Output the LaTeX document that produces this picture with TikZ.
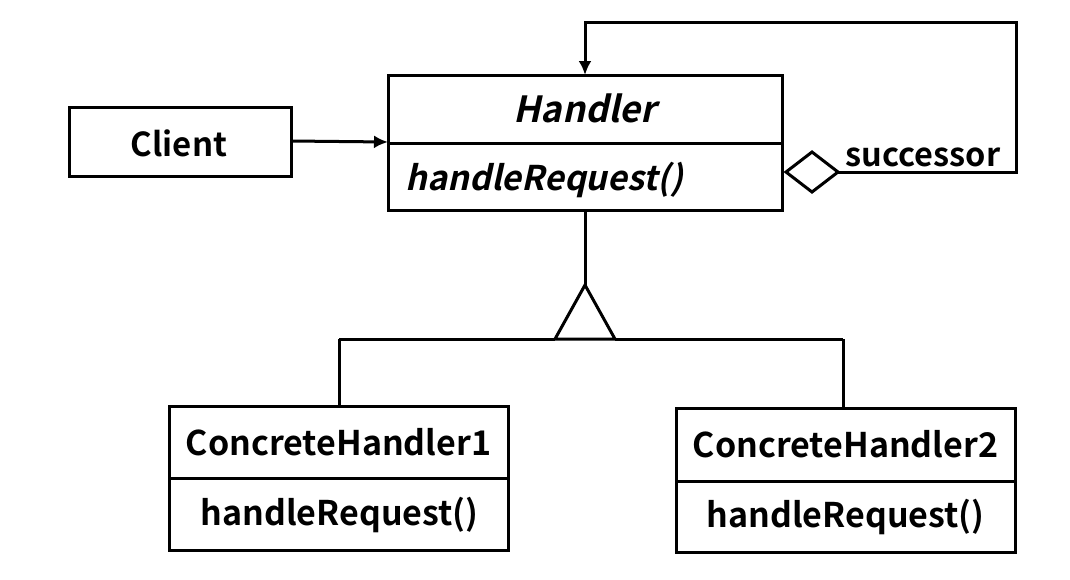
\documentclass[tikz,border=0pt]{standalone}
\usepackage{fontspec}
\usetikzlibrary{arrows.meta}
\setmainfont{Noto Sans CJK SC}[BoldFont={* Bold},BoldItalicFont={* Bold},BoldItalicFeatures={FakeSlant=0.22},ItalicFont={*},ItalicFeatures={FakeSlant=0.22}]
\begin{document}
\begin{tikzpicture}[x=1pt,y=-1pt,line width=3pt,
  box/.style={draw,line width=3pt},
  lbl/.style={font=\fontsize{34}{34}\selectfont\bfseries,inner sep=0pt},
  ilbl/.style={font=\fontsize{34}{34}\selectfont\bfseries\itshape,inner sep=0pt},
  arr/.style={-{Latex[length=14pt,width=13pt]}}]
\useasboundingbox (0,0) rectangle (1070,579);
% Client
\draw[box] (69,107) rectangle (291,176);
\node[lbl,font=\fontsize{33}{33}\selectfont\bfseries] (client) at (179,143) {Client};
\coordinate (clientE) at (291,141);
% Handler
\draw[box] (388,75) rectangle (782,210);
\draw (388,143) -- (782,143);
\node[ilbl,font=\fontsize{36}{36}\selectfont\bfseries\itshape] (handler) at (585,108) {Handler};
\node[ilbl,anchor=west] (hreq) at (404,180) {handleRequest()};
\coordinate (handlerW) at (388,142);
\coordinate (handlerN) at (585,75);
\coordinate (handlerS) at (585,210);
% Client -> Handler
\draw[arr] (clientE) -- (handlerW);
% diamond
\coordinate (dL) at (786,172);
\coordinate (dT) at (812,152);
\coordinate (dR) at (838,172);
\coordinate (dB) at (812,192);
\draw[line join=miter] (dL) -- (dT) -- (dR) -- (dB) -- cycle;
\coordinate (c1) at (1016,172);
\coordinate (c2) at (1016,22);
\coordinate (c3) at (585,22);
\draw[arr] (dR) -- (c1) -- (c2) -- (c3) -- (handlerN);
\node[lbl,font=\fontsize{32.5}{32.5}\selectfont\bfseries,anchor=west] (succ) at (844,157) {successor};
% inheritance
\coordinate (tA) at (585,285);
\coordinate (tL) at (555,339);
\coordinate (tR) at (615,339);
\draw (handlerS) -- (tA);
\draw[line join=miter] (tA) -- (tL) -- (tR) -- cycle;
\coordinate (h1) at (339,339);
\coordinate (h2) at (843,339);
\draw (h1) -- (tL);
\draw (tR) -- (h2);
% CH1
\draw[box] (169,406) rectangle (508,550);
\draw (169,478) -- (508,478);
\node[lbl] (ch1) at (338.5,442) {ConcreteHandler1};
\node[lbl] (ch1m) at (339.5,515) {handleRequest()};
\coordinate (ch1N) at (339,406);
% CH2
\draw[box] (676,408) rectangle (1015,552);
\draw (676,481) -- (1015,481);
\node[lbl] (ch2) at (845.5,444) {ConcreteHandler2};
\node[lbl] (ch2m) at (845.5,517) {handleRequest()};
\coordinate (ch2N) at (843,408);
\draw (h1) -- (ch1N);
\draw (h2) -- (ch2N);
\end{tikzpicture}
\end{document}
